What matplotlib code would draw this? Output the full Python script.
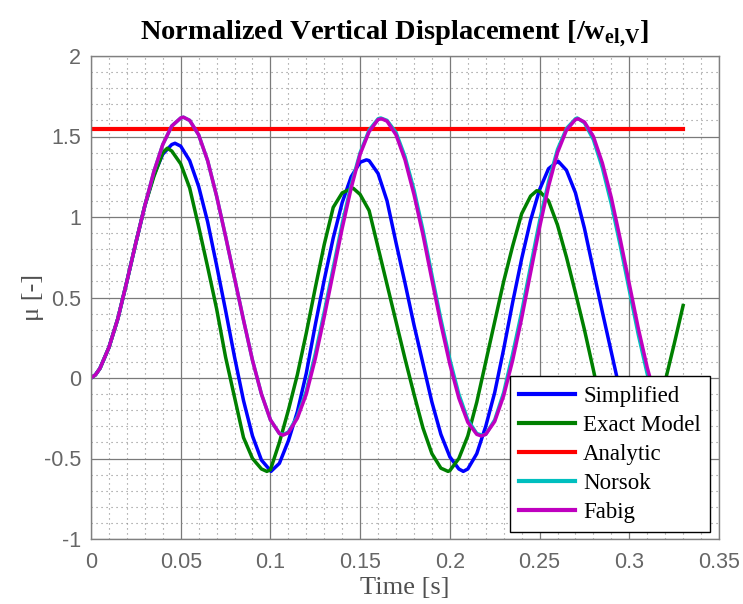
import matplotlib
matplotlib.use("Agg")
import matplotlib.pyplot as plt
from matplotlib.ticker import MultipleLocator, FixedLocator, FixedFormatter

# Regular time samples [s]
time = [round(0.005 * i, 3) for i in range(67)]

simplified = [
    0.00, 0.06, 0.19, 0.37, 0.60, 0.84, 1.07, 1.26, 1.39, 1.45,
    1.44, 1.35, 1.19, 0.97, 0.70, 0.42, 0.13, -0.14, -0.36, -0.51,
    -0.575, -0.53, -0.39, -0.21, 0.03, 0.33, 0.61, 0.87, 1.09, 1.25,
    1.34, 1.35, 1.27, 1.10, 0.84, 0.59, 0.33, 0.09, -0.15, -0.35,
    -0.49, -0.565, -0.565, -0.47, -0.30, -0.09, 0.18, 0.47, 0.74, 0.98,
    1.17, 1.30, 1.345, 1.29, 1.15, 0.93, 0.67, 0.41, 0.16, -0.09,
    -0.31, -0.46, -0.55, -0.58, -0.53, -0.40, -0.22,
]
# Turning points of each response (time, value)
simplified_ext_t = [0.0025, 0.0468, 0.1003, 0.1535, 0.2075, 0.2605]
simplified_ext_v = [0.02, 1.458, -0.58, 1.355, -0.58, 1.345]

exact_model = [
    0.00, 0.06, 0.19, 0.37, 0.60, 0.84, 1.07, 1.25, 1.40, 1.41,
    1.33, 1.18, 0.94, 0.69, 0.43, 0.13, -0.12, -0.37, -0.50, -0.565,
    -0.57, -0.40, -0.20, 0.02, 0.28, 0.56, 0.83, 1.06, 1.15, 1.175,
    1.14, 1.04, 0.81, 0.58, 0.35, 0.12, -0.10, -0.31, -0.47, -0.56,
    -0.575, -0.50, -0.36, -0.15, 0.10, 0.35, 0.60, 0.82, 1.02, 1.13,
    1.16, 1.10, 0.95, 0.75, 0.53, 0.30, 0.05, -0.21, -0.41, -0.53,
    -0.58, -0.53, -0.40, -0.22, -0.02, 0.21, 0.45,
]
exact_model_ext_t = [0.0025, 0.0425, 0.098, 0.1462, 0.199, 0.2484]
exact_model_ext_v = [0.02, 1.427, -0.58, 1.178, -0.58, 1.163]

norsok = [
    0.00, 0.06, 0.19, 0.37, 0.60, 0.84, 1.07, 1.28, 1.45, 1.565,
    1.615, 1.60, 1.51, 1.35, 1.13, 0.88, 0.62, 0.36, 0.11, -0.10,
    -0.26, -0.345, -0.335, -0.24, -0.08, 0.15, 0.41, 0.685, 0.96, 1.20,
    1.40, 1.54, 1.61, 1.60, 1.525, 1.375, 1.17, 0.92, 0.64, 0.365,
    0.115, -0.10, -0.26, -0.345, -0.35, -0.26, -0.09, 0.15, 0.41, 0.695,
    0.975, 1.22, 1.42, 1.55, 1.61, 1.585, 1.48, 1.305, 1.08, 0.82,
    0.545, 0.27, 0.025, -0.17, -0.30, -0.36, -0.35,
]
norsok_ext_t = [0.0025, 0.0515, 0.1075, 0.1615, 0.218, 0.271, 0.3265]
norsok_ext_v = [0.02, 1.62, -0.35, 1.615, -0.355, 1.615, -0.36]

fabig = [
    0.00, 0.06, 0.19, 0.37, 0.60, 0.84, 1.07, 1.28, 1.45, 1.565,
    1.615, 1.60, 1.51, 1.35, 1.13, 0.88, 0.62, 0.36, 0.11, -0.10,
    -0.26, -0.345, -0.34, -0.25, -0.10, 0.12, 0.38, 0.655, 0.93, 1.18,
    1.39, 1.53, 1.605, 1.595, 1.51, 1.355, 1.14, 0.89, 0.61, 0.335,
    0.085, -0.125, -0.275, -0.35, -0.35, -0.27, -0.11, 0.11, 0.37, 0.655,
    0.935, 1.19, 1.40, 1.54, 1.605, 1.59, 1.50, 1.335, 1.12, 0.86,
    0.585, 0.31, 0.065, -0.14, -0.28, -0.355, -0.35,
]
fabig_ext_t = [0.0025, 0.0515, 0.107, 0.162, 0.2175, 0.2715, 0.327]
fabig_ext_v = [0.02, 1.62, -0.355, 1.61, -0.36, 1.61, -0.36]

analytic_time = [0.0, 0.33]
analytic_level = 1.545

x_ticks = [0, 0.05, 0.1, 0.15, 0.2, 0.25, 0.3, 0.35]
x_tick_labels = ["0", "0.05", "0.1", "0.15", "0.2", "0.25", "0.3", "0.35"]
y_ticks = [-1, -0.5, 0, 0.5, 1, 1.5, 2]
y_tick_labels = ["-1", "-0.5", "0", "0.5", "1", "1.5", "2"]

series_names = ["Simplified", "Exact Model", "Analytic", "Norsok", "Fabig"]
series_colors = ["#0000FF", "#008000", "#FF0000", "#00BFBF", "#BF00BF"]


def merged(t_grid, v_grid, t_ext, v_ext):
    pts = sorted(zip(list(t_grid) + list(t_ext), list(v_grid) + list(v_ext)))
    return [p[0] for p in pts], [p[1] for p in pts]


plt.rcParams["mathtext.fontset"] = "custom"
plt.rcParams["mathtext.rm"] = "Liberation Serif"
plt.rcParams["mathtext.bf"] = "Liberation Serif:bold"
plt.rcParams["axes.unicode_minus"] = False

fig = plt.figure(figsize=(7.43, 6.04), dpi=100)
ax = fig.add_axes([91 / 743, 1 - 539 / 604, 628 / 743, 483 / 604])

lw = 2.5
ax.plot(*merged(time, simplified, simplified_ext_t, simplified_ext_v),
        color=series_colors[0], lw=lw, label=series_names[0])
ax.plot(*merged(time, exact_model, exact_model_ext_t, exact_model_ext_v),
        color=series_colors[1], lw=lw, label=series_names[1])
ax.plot(analytic_time, [analytic_level] * len(analytic_time),
        color=series_colors[2], lw=3.0, label=series_names[2])
ax.plot(*merged(time, norsok, norsok_ext_t, norsok_ext_v),
        color=series_colors[3], lw=lw, label=series_names[3])
ax.plot(*merged(time, fabig, fabig_ext_t, fabig_ext_v),
        color=series_colors[4], lw=lw, label=series_names[4])

ax.set_xlim(0, 0.35)
ax.set_ylim(-1, 2)
ax.xaxis.set_major_locator(FixedLocator(x_ticks))
ax.xaxis.set_major_formatter(FixedFormatter(x_tick_labels))
ax.yaxis.set_major_locator(FixedLocator(y_ticks))
ax.yaxis.set_major_formatter(FixedFormatter(y_tick_labels))
ax.xaxis.set_minor_locator(MultipleLocator(0.01))
ax.yaxis.set_minor_locator(MultipleLocator(0.1))

ax.set_axisbelow(True)
ax.grid(which="major", color="#7a7a7a", lw=0.9, ls="-")
ax.grid(which="minor", color="#8a8a8a", lw=0.8, ls=(0, (1, 3.5)))

for side in ax.spines.values():
    side.set_color("#808080")
    side.set_linewidth(1.0)

ax.tick_params(which="both", length=0, colors="#666666", labelsize=15.5)
ax.tick_params(axis="x", pad=9)
ax.tick_params(axis="y", pad=7)
for lab in ax.get_xticklabels() + ax.get_yticklabels():
    lab.set_family("Liberation Sans")

ax.set_xlabel("Time [s]", family="Liberation Serif", fontsize=19,
              color="#505050", labelpad=3)
ax.set_ylabel("\u03bc [-]", family="Liberation Serif", fontsize=19,
              color="#505050", labelpad=0)
ax.set_title(r"Normalized Vertical Displacement [/w$_{\mathbf{el{,}V}}$]",
             family="Liberation Serif", fontweight="bold", fontsize=20.5,
             color="black", pad=12, x=0.483)

leg = ax.legend(loc="lower right", bbox_to_anchor=(0.9857, 0.0145),
                borderaxespad=0, fancybox=False, framealpha=1,
                edgecolor="black", prop={"family": "Liberation Serif", "size": 16.5},
                handlelength=2.45, handletextpad=0.35, labelspacing=0.35,
                borderpad=0.4)
leg.get_frame().set_linewidth(1.0)
for line in leg.get_lines():
    line.set_linewidth(3.0)

fig.savefig("out.png", dpi=100)
